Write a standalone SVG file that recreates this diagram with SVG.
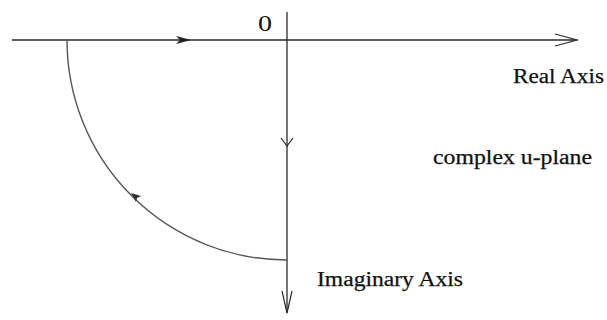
<svg xmlns="http://www.w3.org/2000/svg" width="607" height="320" viewBox="0 0 607 320">
<style>
.ax{stroke:#2a2a2a;stroke-width:1.3;fill:none}
.arc{stroke:#555;stroke-width:1.4;fill:none}
.hd{stroke:#2a2a2a;stroke-width:1.2;fill:none}
.lb{font-family:"Liberation Serif","Times New Roman",serif;font-size:20px;fill:#111;stroke:#111;stroke-width:0.25}
</style>
<rect width="607" height="320" fill="#fff"/>
<g id="connectors">
<path class="ax" d="M12 40 H577"/>
<path class="ax" d="M287 12 V313"/>
<path class="arc" d="M67 40 A220 220 0 0 0 287 260"/>
<path class="hd" d="M555 34 L577 40 L555 46"/>
<path class="hd" d="M282 291 L287 313 L292 291"/>
<path d="M176 36 L191 40 L176 44 L180 40 Z" fill="#222"/>
<path class="hd" d="M281 138 L287 146 L293 138"/>
<path d="M131 193 L141 196 L137 198 L136 202 Z" fill="#333"/>
</g>
<g id="origin"><text class="lb" x="258" y="31" textLength="14" lengthAdjust="spacingAndGlyphs" style="font-size:24px;stroke-width:0">0</text></g>
<g id="real-axis"><text class="lb" x="513" y="83" textLength="91" lengthAdjust="spacingAndGlyphs">Real Axis</text></g>
<g id="plane"><text class="lb" x="433" y="164" textLength="159" lengthAdjust="spacingAndGlyphs">complex u-plane</text></g>
<g id="imag-axis"><text class="lb" x="317" y="286" textLength="146" lengthAdjust="spacingAndGlyphs">Imaginary Axis</text></g>
</svg>
